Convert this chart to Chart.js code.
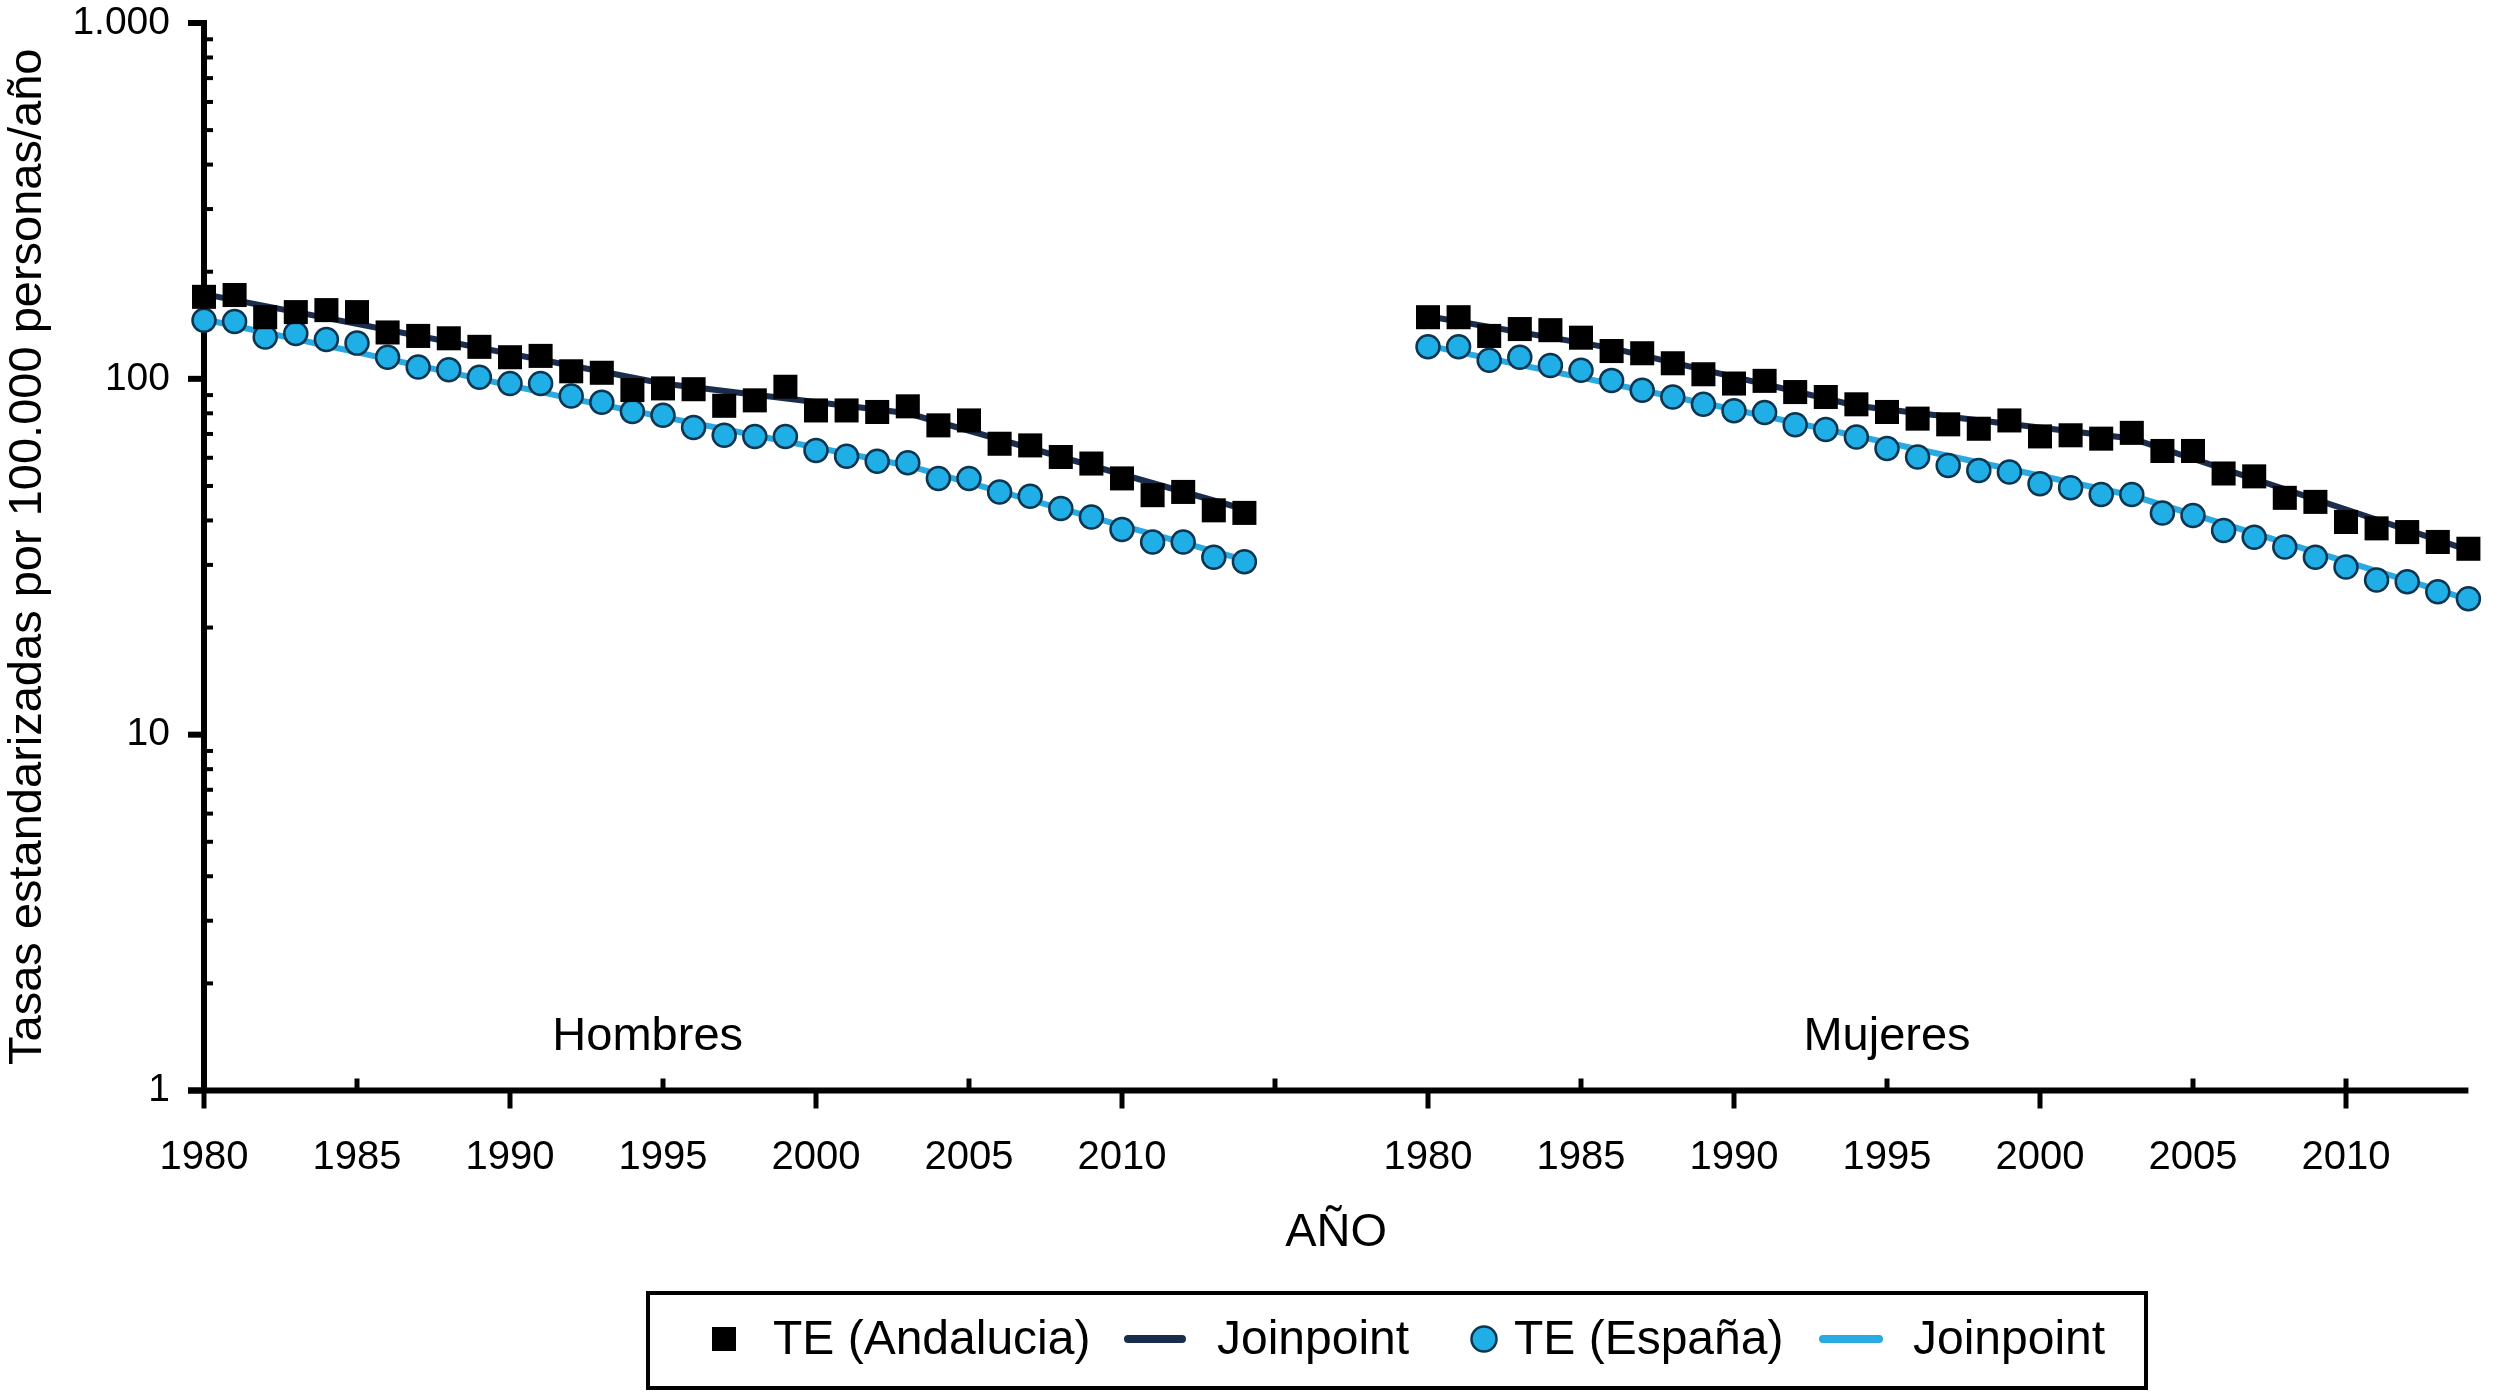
<!DOCTYPE html>
<html>
<head>
<meta charset="utf-8">
<script src="https://cdn.jsdelivr.net/npm/chart.js@4/dist/chart.umd.min.js"></script>
<style>
  html, body { margin: 0; padding: 0; background: #fff; }
  #wrap { width: 2508px; height: 1392px; position: relative; }
</style>
</head>
<body>
<div id="wrap"><canvas id="c"></canvas></div>
<script>
// ---- Data ----
const years = [1980,1981,1982,1983,1984,1985,1986,1987,1988,1989,1990,1991,1992,1993,1994,1995,1996,1997,1998,1999,2000,2001,2002,2003,2004,2005,2006,2007,2008,2009,2010,2011,2012,2013,2014];

const hombresAndalucia = [170,172,149,154,156,154,135,132,130,123,115,116,105,104,93,94,93.5,84,87,95,81.5,81.5,80.7,83.7,74,76.4,65.7,65,60.3,57.8,52.5,47.1,48.1,42.7,42];
const hombresEspana    = [146,145,131,134,129,126,115,108,106,101,97,97,89.5,86,81,79,73,69.4,68.9,68.9,62.9,60.6,58.7,58.1,52.5,52.5,48.1,46.8,43.2,40.9,37.7,34.8,34.8,31.5,30.6];
const mujeresAndalucia = [149,149,132,138,137,130.5,119.7,118,110.6,103,97,98.7,91.8,88.9,84.8,80.7,77.3,74.5,72.4,76.4,68.9,69.4,67.9,70.5,62.7,62.7,54.2,53.2,46.3,45.1,39.6,38,37.1,34.8,33.3];
const mujeresEspana    = [123,123,112.7,115,109,105.7,99,92.9,88.9,84.8,81.3,80.4,74.3,72,68.6,63.7,60.3,57.1,55.3,54.7,50.7,49.4,47.3,47.3,42,41.3,37.5,35.9,33.7,31.5,29.6,27.2,26.9,25.2,24.1];

// Joinpoint segments (vertices)
const jpHombresAndYears = [1980,1995,2003,2014];
const jpHombresAndVals  = [173,97,80,43];
const jpHombresEspYears = [1980,1992,2003,2014];
const jpHombresEspVals  = [147,88,57,31];
const jpMujeresAndYears = [1980,1986,1994,2003,2014];
const jpMujeresAndVals  = [150,122,84,68,33];
const jpMujeresEspYears = [1980,1990,2003,2014];
const jpMujeresEspVals  = [124,82,47,24];

// Tick labels
const xTickValues = [0,5,10,15,20,25,30,35,40,45,50,55,60,65,70];
const xTickLabels = ['1980','1985','1990','1995','2000','2005','2010','','1980','1985','1990','1995','2000','2005','2010'];
const yTickValues = [1,10,100,1000];
const yTickLabels = ['1','10','100','1.000'];

const panelLabels = ['Hombres','Mujeres'];
const legendLabels = ['TE (Andalucia)','Joinpoint','TE (España)','Joinpoint'];

// ---- Layout mapping (panel offsets on a shared axis) ----
const HOMBRES_OFFSET = 0;
const MUJERES_OFFSET = 40;
const toPts = (yrs, vals, off) => yrs.map((yr, i) => ({ x: yr - 1980 + off, y: vals[i] }));

const FONT = '"Liberation Sans", Arial, Helvetica, sans-serif';
Chart.defaults.font.family = FONT;
Chart.defaults.color = '#000';

const NAVY = '#1b2d4d';
const SKY = '#2aaae2';
const CIRCLE_FILL = '#20aee7';
const CIRCLE_EDGE = '#0c3550';

const squareStyle = { showLine: false, pointStyle: 'rect', pointRadius: 17, pointHoverRadius: 17,
  backgroundColor: '#000', borderColor: '#000', borderWidth: 0, order: 0, clip: false };
const circleStyle = { showLine: false, pointStyle: 'circle', pointRadius: 11.5, pointHoverRadius: 11.5,
  backgroundColor: CIRCLE_FILL, borderColor: CIRCLE_EDGE, borderWidth: 2.5, order: 1, clip: false };
const lineStyle = (color) => ({ showLine: true, pointRadius: 0, borderColor: color, borderWidth: 6,
  backgroundColor: color, fill: false, tension: 0, order: 2, clip: false });

const datasets = [
  Object.assign({ label: 'TE (Andalucia) Hombres', data: toPts(years, hombresAndalucia, HOMBRES_OFFSET) }, squareStyle),
  Object.assign({ label: 'TE (Andalucia) Mujeres', data: toPts(years, mujeresAndalucia, MUJERES_OFFSET) }, squareStyle),
  Object.assign({ label: 'TE (España) Hombres', data: toPts(years, hombresEspana, HOMBRES_OFFSET) }, circleStyle),
  Object.assign({ label: 'TE (España) Mujeres', data: toPts(years, mujeresEspana, MUJERES_OFFSET) }, circleStyle),
  Object.assign({ label: 'Joinpoint Andalucia H', data: toPts(jpHombresAndYears, jpHombresAndVals, HOMBRES_OFFSET) }, lineStyle(NAVY)),
  Object.assign({ label: 'Joinpoint Andalucia M', data: toPts(jpMujeresAndYears, jpMujeresAndVals, MUJERES_OFFSET) }, lineStyle(NAVY)),
  Object.assign({ label: 'Joinpoint España H', data: toPts(jpHombresEspYears, jpHombresEspVals, HOMBRES_OFFSET) }, lineStyle(SKY)),
  Object.assign({ label: 'Joinpoint España M', data: toPts(jpMujeresEspYears, jpMujeresEspVals, MUJERES_OFFSET) }, lineStyle(SKY))
];

// ---- Plugin: axis lines and tick marks ----
const axesPlugin = {
  id: 'axesPlugin',
  beforeDatasetsDraw(chart) {
    const { ctx, scales: { x, y } } = chart;
    const x0 = x.getPixelForValue(0);
    const xEnd = x.getPixelForValue(x.max);
    const yb = y.getPixelForValue(1);
    const yt = y.getPixelForValue(1000);
    ctx.save();
    ctx.strokeStyle = '#000';
    ctx.lineCap = 'butt';
    const seg = (a, b, c, d, w) => { ctx.lineWidth = w; ctx.beginPath(); ctx.moveTo(a, b); ctx.lineTo(c, d); ctx.stroke(); };
    // y axis
    seg(x0, yt - 3, x0, yb, 6);
    // x axis
    seg(x0 - 16, yb, xEnd, yb, 6);
    // major y ticks (outward)
    yTickValues.forEach(v => { const p = y.getPixelForValue(v); seg(x0 - 16, p, x0, p, 6); });
    // minor y ticks (inward)
    for (let d = 0; d < yTickValues.length - 1; d++) {
      for (let m = 2; m <= 9; m++) {
        const p = y.getPixelForValue(yTickValues[d] * m);
        seg(x0, p, x0 + 9, p, 4);
      }
    }
    // x ticks: alternating down / up, last one crossing
    xTickValues.forEach((v, i) => {
      const p = x.getPixelForValue(v);
      const last = i === xTickValues.length - 1;
      if (i % 2 === 0 || last) seg(p, yb, p, yb + 18, 5);
      if (i % 2 === 1 || last) seg(p, yb - 12, p, yb, 5);
    });
    ctx.restore();
  },
  afterDraw(chart) {
    const { ctx, scales: { x, y } } = chart;
    ctx.save();
    // panel labels
    ctx.fillStyle = '#000';
    ctx.font = '47px ' + FONT;
    ctx.textAlign = 'center';
    ctx.textBaseline = 'middle';
    ctx.fillText(panelLabels[0], x.getPixelForValue(14.5), y.getPixelForValue(1.41));
    ctx.fillText(panelLabels[1], x.getPixelForValue(55), y.getPixelForValue(1.41));

    // legend box
    ctx.lineWidth = 4;
    ctx.strokeStyle = '#000';
    ctx.strokeRect(648, 1293, 1498, 95);
    const cy = 1339;
    // square
    ctx.fillStyle = '#000';
    ctx.fillRect(712, cy - 12, 24, 24);
    ctx.font = '48px ' + FONT;
    ctx.textAlign = 'left';
    ctx.textBaseline = 'middle';
    ctx.fillText(legendLabels[0], 773, cy + 2);
    // navy line
    ctx.lineCap = 'round';
    ctx.lineWidth = 8;
    ctx.strokeStyle = NAVY;
    ctx.beginPath(); ctx.moveTo(1128, cy); ctx.lineTo(1182, cy); ctx.stroke();
    ctx.fillStyle = '#000';
    ctx.fillText(legendLabels[1], 1217, cy + 2);
    // circle
    ctx.beginPath(); ctx.arc(1484, cy, 12.5, 0, Math.PI * 2);
    ctx.fillStyle = CIRCLE_FILL; ctx.fill();
    ctx.lineWidth = 2.5; ctx.strokeStyle = CIRCLE_EDGE; ctx.stroke();
    ctx.fillStyle = '#000';
    ctx.fillText(legendLabels[2], 1514, cy + 2);
    // sky line
    ctx.lineWidth = 8;
    ctx.strokeStyle = SKY;
    ctx.beginPath(); ctx.moveTo(1823, cy); ctx.lineTo(1879, cy); ctx.stroke();
    ctx.fillStyle = '#000';
    ctx.fillText(legendLabels[3], 1913, cy + 2);
    ctx.restore();
  }
};

new Chart(document.getElementById('c'), {
  type: 'scatter',
  data: { datasets },
  options: {
    responsive: true,
    maintainAspectRatio: false,
    devicePixelRatio: 1,
    animation: false,
    events: [],
    layout: { padding: { top: 23, right: 39.6, bottom: 131, left: 0 } },
    plugins: { legend: { display: false }, tooltip: { enabled: false } },
    scales: {
      x: {
        type: 'linear',
        min: 0,
        max: 74,
        grid: { display: false, drawTicks: false },
        border: { display: false },
        afterBuildTicks: (s) => { s.ticks = xTickValues.map(v => ({ value: v })); },
        afterFit: (s) => { s.height = 170.5; s.paddingLeft = 0; s.paddingRight = 0; },
        ticks: {
          autoSkip: false,
          maxRotation: 0,
          padding: 43,
          font: { size: 40 },
          color: '#000',
          callback: (v) => { const i = xTickValues.indexOf(v); return i >= 0 ? xTickLabels[i] : ''; }
        },
        title: { display: true, text: 'AÑO', font: { size: 47 }, color: '#000', padding: 0 }
      },
      y: {
        type: 'logarithmic',
        min: 1,
        max: 1000,
        grid: { display: false, drawTicks: false },
        border: { display: false },
        afterBuildTicks: (s) => { s.ticks = yTickValues.map(v => ({ value: v })); },
        afterFit: (s) => { s.width = 204; s.paddingTop = 0; s.paddingBottom = 0; },
        ticks: {
          autoSkip: false,
          padding: 34,
          font: { size: 39 },
          color: '#000',
          callback: (v) => { const i = yTickValues.indexOf(v); return i >= 0 ? yTickLabels[i] : ''; }
        },
        title: { display: true, text: 'Tasas estandarizadas por 100.000 personas/año', font: { size: 47 }, color: '#000', padding: 0 }
      }
    }
  },
  plugins: [axesPlugin]
});
</script>
</body>
</html>
